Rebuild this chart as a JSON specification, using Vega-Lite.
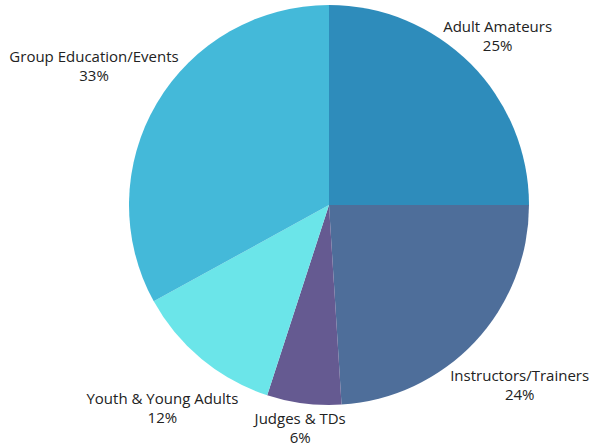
{
  "$schema": "https://vega.github.io/schema/vega-lite/v6.json",
  "width": 522,
  "height": 410,
  "autosize": {"type": "none"},
  "padding": {"left": 68, "top": 0, "right": 0, "bottom": 38},
  "background": "white",
  "view": {"stroke": null},
  "config": {"text": {"font": "Open Sans", "fontSize": 15, "fill": "#222222", "baseline": "middle"}},
  "data": {
    "values": [
      {"ord": 1, "category": "Adult Amateurs", "value": 0.25},
      {"ord": 2, "category": "Instructors/Trainers", "value": 0.24},
      {"ord": 3, "category": "Judges & TDs", "value": 0.06},
      {"ord": 4, "category": "Youth & Young Adults", "value": 0.12},
      {"ord": 5, "category": "Group Education/Events", "value": 0.33}
    ]
  },
  "encoding": {
    "theta": {"field": "value", "type": "quantitative", "stack": true},
    "order": {"field": "ord", "type": "quantitative"}
  },
  "layer": [
    {
      "mark": {"type": "arc", "outerRadius": 200},
      "encoding": {
        "color": {
          "field": "category",
          "type": "nominal",
          "legend": null,
          "scale": {
            "domain": ["Adult Amateurs", "Instructors/Trainers", "Judges & TDs", "Youth & Young Adults", "Group Education/Events"],
            "range": ["#2E8CBB", "#4E6E9A", "#655A91", "#6BE5E9", "#44B9D9"]
          }
        }
      }
    },
    {
      "mark": {"type": "text", "dx": 6, "dy": -15.5},
      "encoding": {"radius": {"value": 230}, "text": {"condition": {"test": "datum.category === 'Adult Amateurs'", "field": "category"}, "value": ""}}
    },
    {
      "mark": {"type": "text", "dx": 6, "dy": 3.5},
      "encoding": {"radius": {"value": 230}, "text": {"condition": {"test": "datum.category === 'Adult Amateurs'", "field": "value", "type": "quantitative", "format": ".0%"}, "value": ""}}
    },
    {
      "mark": {"type": "text", "dx": -37, "dy": -31},
      "encoding": {"radius": {"value": 230}, "text": {"condition": {"test": "datum.category === 'Group Education/Events'", "field": "category"}, "value": ""}}
    },
    {
      "mark": {"type": "text", "dx": -37, "dy": -12},
      "encoding": {"radius": {"value": 230}, "text": {"condition": {"test": "datum.category === 'Group Education/Events'", "field": "value", "type": "quantitative", "format": ".0%"}, "value": ""}}
    },
    {
      "mark": {"type": "text", "dx": 23, "dy": 13.5},
      "encoding": {"radius": {"value": 230}, "text": {"condition": {"test": "datum.category === 'Instructors/Trainers'", "field": "category"}, "value": ""}}
    },
    {
      "mark": {"type": "text", "dx": 23, "dy": 32.5},
      "encoding": {"radius": {"value": 230}, "text": {"condition": {"test": "datum.category === 'Instructors/Trainers'", "field": "value", "type": "quantitative", "format": ".0%"}, "value": ""}}
    },
    {
      "mark": {"type": "text", "dx": -20, "dy": 16.5},
      "encoding": {"radius": {"value": 230}, "text": {"condition": {"test": "datum.category === 'Youth & Young Adults'", "field": "category"}, "value": ""}}
    },
    {
      "mark": {"type": "text", "dx": -20, "dy": 35.5},
      "encoding": {"radius": {"value": 230}, "text": {"condition": {"test": "datum.category === 'Youth & Young Adults'", "field": "value", "type": "quantitative", "format": ".0%"}, "value": ""}}
    },
    {
      "mark": {"type": "text", "dx": 0, "dy": -14.5},
      "encoding": {"radius": {"value": 230}, "text": {"condition": {"test": "datum.category === 'Judges & TDs'", "field": "category"}, "value": ""}}
    },
    {
      "mark": {"type": "text", "dx": 0, "dy": 4.5},
      "encoding": {"radius": {"value": 230}, "text": {"condition": {"test": "datum.category === 'Judges & TDs'", "field": "value", "type": "quantitative", "format": ".0%"}, "value": ""}}
    }
  ]
}
